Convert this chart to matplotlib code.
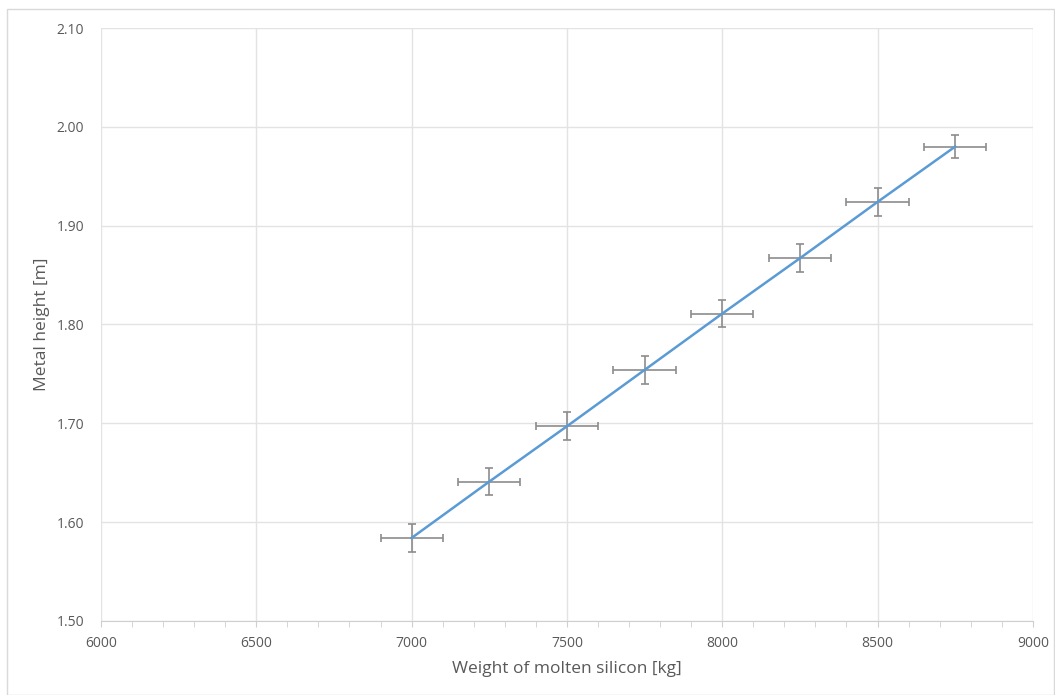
import numpy as np
import matplotlib
matplotlib.use('Agg')
import matplotlib.pyplot as plt
from matplotlib.patches import Rectangle

# data
weight = [7000, 7250, 7500, 7750, 8000, 8250, 8500, 8750]
height = [1.584, 1.641, 1.697, 1.754, 1.811, 1.867, 1.924, 1.980]
x_err = [100, 100, 100, 100, 100, 100, 100, 100]
y_err = [0.014, 0.014, 0.014, 0.014, 0.014, 0.014, 0.014, 0.012]

plt.rcParams['font.family'] = ['Open Sans', 'DejaVu Sans']
txt = '#595959'
grid = '#e3e3e3'

fig = plt.figure(figsize=(10.55, 6.95), dpi=100)
ax = fig.add_axes([0.0957, 0.1065, 0.8833, 0.8532])

# chart area border
fig.patches.append(Rectangle((0.007, 0.0), 0.992, 0.987, transform=fig.transFigure,
                             fill=False, edgecolor='#d9d9d9', lw=1))

ax.plot(weight, height, color='#5b9bd5', lw=1.8, zorder=3)
ax.errorbar(weight, height, xerr=x_err, yerr=y_err, fmt='none',
            ecolor='#8c8c8c', elinewidth=1.2, capsize=3, capthick=1.2, zorder=2)

ax.set_xlim(6000, 9000)
ax.set_ylim(1.50, 2.10)
ax.set_xticks(np.arange(6000, 9001, 500))
ax.set_xticks(np.arange(6000, 9001, 100), minor=True)
ax.set_yticks(np.arange(1.50, 2.101, 0.10))
ax.yaxis.set_major_formatter(matplotlib.ticker.FormatStrFormatter('%.2f'))

ax.grid(True, which='major', color=grid, lw=1.0)
ax.set_axisbelow(True)
for s in ['top', 'right', 'left']:
    ax.spines[s].set_visible(False)
ax.spines['bottom'].set_color('#cfcfcf')
ax.tick_params(axis='y', length=0, pad=12, labelsize=10, labelcolor=txt)
ax.tick_params(axis='x', which='major', length=4, color='#cfcfcf', pad=7,
               labelsize=10, labelcolor=txt)
ax.tick_params(axis='x', which='minor', length=4, color='#cfcfcf', direction='out')

ax.set_xlabel('Weight of molten silicon [kg]', fontsize=12.5, color=txt, labelpad=7)
ax.set_ylabel('Metal height [m]', fontsize=12.5, color=txt, labelpad=5)

fig.savefig('out.png', dpi=100)
